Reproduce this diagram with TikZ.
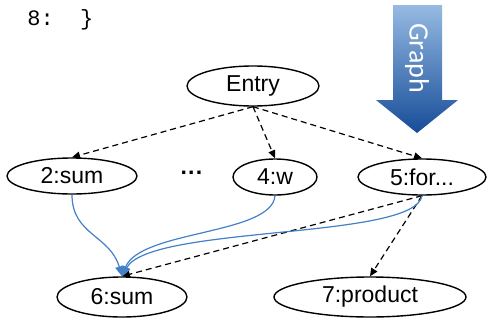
\documentclass[tikz,border=0pt]{standalone}
\usepackage{fontspec}
\setmainfont{Liberation Sans}
\setmonofont{Liberation Mono}
\newfontfamily\graphfont{Carlito}
\usetikzlibrary{arrows.meta, shapes.geometric, positioning}
\definecolor{flowblue}{RGB}{66,128,200}
\definecolor{arrowtop}{RGB}{150,186,226}
\definecolor{arrowbot}{RGB}{22,76,152}
\tikzset{
  vertex/.style={ellipse, draw=black, line width=0.7pt, inner sep=0pt,
                 minimum height=19pt, font=\fontsize{11.5}{13}\selectfont},
  ctrl/.style={-{Triangle[length=4pt,width=3.5pt]}, dash pattern=on 3pt off 2pt,
               line width=0.6pt},
  data/.style={-{Triangle[length=5pt,width=4pt]}, draw=flowblue, fill=none,
               line width=0.6pt},
  codeline/.style={font=\ttfamily\fontsize{11}{13}\selectfont, inner sep=0pt},
}
\begin{document}
\begin{tikzpicture}[x=0.5pt, y=-0.5pt]
  \useasboundingbox (0,0) rectangle (487,321);

  % the Graph arrow
  \shade[top color=arrowtop, bottom color=arrowbot]
    (393,5) -- (442,5) -- (442,100) -- (458,100) -- (417,133)
    -- (376,100) -- (393,100) -- cycle;
  \node[rotate=-90, text=white, font=\graphfont\fontsize{14}{16}\selectfont]
    (graphlbl) at (417,58) {Graph};

  \node[codeline, anchor=west] (line8) at (27,20) {8:\ \ \}};

  \node[vertex, minimum width=66pt, minimum height=20pt] (entry) at (253,86)  {Entry};
  \node[vertex, minimum width=65pt, minimum height=18pt] (sum2)  at (72,176)  {2:sum};
  \node[font=\fontsize{11.5}{13}\selectfont\bfseries]    (dots)  at (192,176) {···};
  \node[vertex, minimum width=42pt, minimum height=18pt] (w4)    at (275,177) {4:w};
  \node[vertex, minimum width=64pt, minimum height=18pt] (for5)  at (422,177) {5:for...};
  \node[vertex, minimum width=65pt, minimum height=20pt] (sum6)  at (122,297) {6:sum};
  \node[vertex, minimum width=96pt, minimum height=20pt] (prod7) at (370,297) {7:product};

  % control flow
  \foreach \a/\b in {entry/sum2, entry/w4, entry/for5, for5/sum6, for5/prod7}
    \draw[ctrl] (\a.south) -- (\b.north);

  % data flow
  \draw[data] (sum2.south) .. controls (72,235) and (110,235) .. (sum6.north);
  \draw[data] (w4.south)   .. controls (272,235) and (140,230) .. (sum6.north);
  \draw[data] (for5.south) .. controls (415,240) and (150,225) .. (sum6.north);

\end{tikzpicture}
\end{document}
